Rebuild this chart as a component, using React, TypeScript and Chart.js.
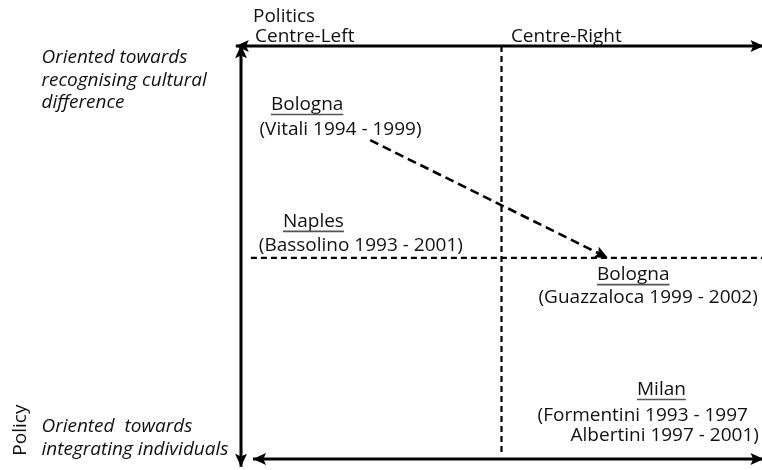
import { useEffect, useRef } from "react";
import { Chart, registerables } from "chart.js";

Chart.register(...registerables);

// ---- Diagram frame (data units: x 0..100 = Centre-Left -> Centre-Right, y 0..100 = integrating -> recognising)
const verticalAxisX = [0, 0];
const verticalAxisY = [100.2, -1.9];
const topAxisX = [-1, 100.3];
const topAxisY = [100, 100];
const bottomAxisX = [2.3, 100.3];
const bottomAxisY = [0, 0];
const midVerticalX = [50, 50];
const midVerticalY = [100, 1.5];
const midHorizontalX = [1.9, 100];
const midHorizontalY = [48.7, 48.7];
const shiftX = [24.8, 70.4];
const shiftY = [77.2, 48.7];

// ---- Axis captions
const politicsTitle = "Politics";
const politicsTitlePos = [2.3, 105.8];
const politicsCategories = ["Centre-Left", "Centre-Right"];
const politicsCategoryX = [2.7, 51.8];
const politicsCategoryY = [101.0, 101.0];
const policyTitle = "Policy";
const policyTitlePos = [-41.3, 7.0];
const policyTopLines = ["Oriented towards", "recognising cultural", "difference"];
const policyTopY = [95.9, 90.4, 84.9];
const policyBottomLines = ["Oriented  towards", "integrating individuals"];
const policyBottomY = [6.6, 1.0];
const policyTextX = -38.3;

// ---- Cities
const cityNames = ["Bologna", "Naples", "Bologna", "Milan"];
const cityNameX = [12.7, 13.9, 75.3, 80.7];
const cityNameY = [84.5, 56.2, 43.3, 15.5];
const mayorLines = [
  "(Vitali 1994 - 1999)",
  "(Bassolino 1993 - 2001)",
  "(Guazzaloca 1999 - 2002)",
  "(Formentini 1993 - 1997",
  "Albertini 1997 - 2001)",
];
const mayorX = [19.1, 23.0, 99.2, 97.3, 99.4];
const mayorY = [78.5, 50.4, 37.8, 9.2, 4.4];
const mayorAlign = ["center", "center", "right", "right", "right"];

const FONT = "'Open Sans', 'DejaVu Sans', sans-serif";

function zip(xs: number[], ys: number[]) {
  return xs.map((x, i) => ({ x, y: ys[i] }));
}

function arrowHead(ctx: CanvasRenderingContext2D, tx: number, ty: number, fx: number, fy: number) {
  const ang = Math.atan2(ty - fy, tx - fx);
  const L = 13;
  const W = 6;
  ctx.save();
  ctx.translate(tx, ty);
  ctx.rotate(ang);
  ctx.beginPath();
  ctx.moveTo(0, 0);
  ctx.lineTo(-L, -W);
  ctx.lineTo(-L * 0.8, 0);
  ctx.lineTo(-L, W);
  ctx.closePath();
  ctx.fillStyle = "#000";
  ctx.fill();
  ctx.restore();
}

const overlayPlugin = {
  id: "overlay",
  afterDatasetsDraw(chart: any) {
    const ctx: CanvasRenderingContext2D = chart.ctx;
    const xs = chart.scales.x;
    const ys = chart.scales.y;
    const px = (v: number) => xs.getPixelForValue(v);
    const py = (v: number) => ys.getPixelForValue(v);

    // arrowheads
    chart.data.datasets.forEach((ds: any) => {
      const d = ds.data;
      const n = d.length;
      if (ds.arrowEnd) arrowHead(ctx, px(d[n - 1].x), py(d[n - 1].y), px(d[n - 2].x), py(d[n - 2].y));
      if (ds.arrowStart) arrowHead(ctx, px(d[0].x), py(d[0].y), px(d[1].x), py(d[1].y));
    });

    ctx.save();
    ctx.fillStyle = "#111";
    ctx.textBaseline = "alphabetic";
    ctx.font = `19px ${FONT}`;
    ctx.textAlign = "left";
    ctx.fillText(politicsTitle, px(politicsTitlePos[0]), py(politicsTitlePos[1]));
    politicsCategories.forEach((t, i) => ctx.fillText(t, px(politicsCategoryX[i]), py(politicsCategoryY[i])));

    // Policy (rotated)
    ctx.save();
    ctx.translate(px(policyTitlePos[0]), py(policyTitlePos[1]));
    ctx.rotate(-Math.PI / 2);
    ctx.textAlign = "center";
    ctx.fillText(policyTitle, 0, 0);
    ctx.restore();

    ctx.font = `italic 19px ${FONT}`;
    ctx.textAlign = "left";
    policyTopLines.forEach((t, i) => ctx.fillText(t, px(policyTextX), py(policyTopY[i])));
    policyBottomLines.forEach((t, i) => ctx.fillText(t, px(policyTextX), py(policyBottomY[i])));

    // cities
    ctx.font = `19px ${FONT}`;
    cityNames.forEach((t, i) => {
      const cx = px(cityNameX[i]);
      const cy = py(cityNameY[i]);
      ctx.textAlign = "center";
      ctx.fillText(t, cx, cy);
      const w = ctx.measureText(t).width;
      ctx.strokeStyle = "#555";
      ctx.lineWidth = 1.6;
      ctx.beginPath();
      ctx.moveTo(cx - w / 2, cy + 4.5);
      ctx.lineTo(cx + w / 2, cy + 4.5);
      ctx.stroke();
    });
    mayorLines.forEach((t, i) => {
      ctx.textAlign = mayorAlign[i] as CanvasTextAlign;
      ctx.fillText(t, px(mayorX[i]), py(mayorY[i]));
    });
    ctx.restore();
  },
};

export default function App() {
  const ref = useRef<HTMLCanvasElement>(null);
  useEffect(() => {
    if (!ref.current) return;
    const solid = { borderColor: "#000", borderWidth: 3, pointRadius: 0, showLine: true, clip: false as const };
    const dashed = { borderColor: "#000", borderWidth: 2.2, borderDash: [6, 4], pointRadius: 0, showLine: true, clip: false as const };
    const chart = new Chart(ref.current, {
      type: "scatter",
      data: {
        datasets: [
          { label: "Policy axis", data: zip(verticalAxisX, verticalAxisY), ...solid, arrowStart: true, arrowEnd: true } as any,
          { label: "Politics axis", data: zip(topAxisX, topAxisY), ...solid, arrowStart: true, arrowEnd: true } as any,
          { label: "Bottom axis", data: zip(bottomAxisX, bottomAxisY), ...solid, arrowStart: true, arrowEnd: true } as any,
          { label: "Mid vertical", data: zip(midVerticalX, midVerticalY), ...dashed } as any,
          { label: "Mid horizontal", data: zip(midHorizontalX, midHorizontalY), ...dashed } as any,
          { label: "Bologna shift", data: zip(shiftX, shiftY), ...dashed, borderWidth: 2.6, borderDash: [9, 5], arrowEnd: true } as any,
        ],
      },
      options: {
        responsive: false,
        animation: false,
        events: [],
        layout: { padding: { left: 241, right: 0, top: 46, bottom: 11 } },
        scales: {
          x: { type: "linear", min: 0, max: 100, display: false },
          y: { type: "linear", min: 0, max: 100, display: false },
        },
        plugins: { legend: { display: false }, tooltip: { enabled: false }, title: { display: false } },
      },
      plugins: [overlayPlugin],
    });
    return () => chart.destroy();
  }, []);
  return (
    <div style={{ position: "fixed", left: 0, top: 0, width: 762, height: 470, background: "#fff" }}>
      <canvas ref={ref} width={762} height={470} style={{ width: 762, height: 470 }} />
    </div>
  );
}
